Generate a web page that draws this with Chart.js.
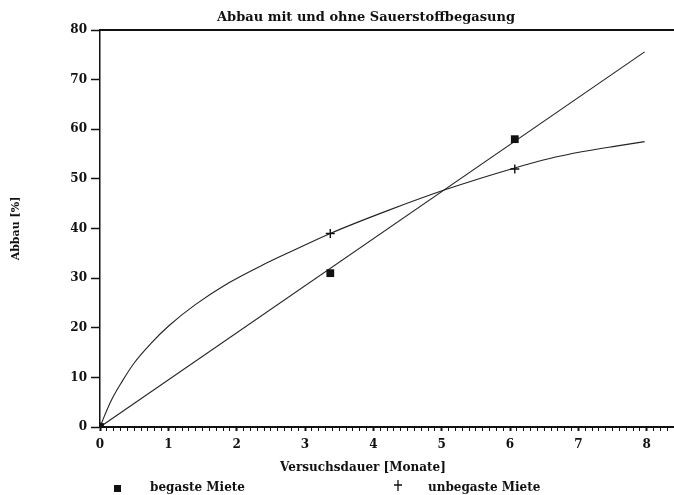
<!DOCTYPE html>
<html>
<head>
<meta charset="utf-8">
<script src="https://cdn.jsdelivr.net/npm/chart.js@4"></script>
<style>
  html, body { margin: 0; padding: 0; background: #fff; }
  #wrap { position: relative; width: 674px; height: 495px; }
</style>
</head>
<body>
<div id="wrap"><canvas id="abbauChart"></canvas></div>
<script>
// measured values (months, % degradation)
const begastX = [0, 3.37, 6.07];
const begastY = [0, 31, 58];
const unbegastX = [0, 3.37, 6.07];
const unbegastY = [0, 39, 52];

// fitted line for begaste Miete
const begastFitX = [0, 7.97];
const begastFitY = [0, 75.6];

// fitted curve for unbegaste Miete
const unbegastFitX = [0, 0.07, 0.17, 0.32, 0.5, 0.75, 1.0, 1.39, 1.88, 2.36, 2.85, 3.37, 4.19, 5.07, 6.07, 6.58, 7.07, 7.55, 7.97];
const unbegastFitY = [0, 2.4, 5.5, 9.1, 12.9, 16.9, 20.3, 24.6, 29.0, 32.5, 35.7, 39.0, 43.5, 47.9, 52.2, 54.1, 55.5, 56.6, 57.5];

const yTicks = [0, 10, 20, 30, 40, 50, 60, 70, 80];
const xLabels = [0, 1, 2, 3, 4, 5, 6, 7, 8];

const FONT = "'DejaVu Serif', serif";
const INK = "#111";

const toPoints = (xs, ys) => xs.map((x, i) => ({ x: x, y: ys[i] }));

const isMajor = (v) => Math.abs(v - Math.round(v)) < 1e-6 && xLabels.includes(Math.round(v));

/**
 * Title, x axis caption, legend and top frame line
 */
const annotations = {
    id: "annotations",
    afterDraw(chart) {
        const ctx = chart.ctx;
        const area = chart.chartArea;
        ctx.save();
        ctx.fillStyle = INK;
        ctx.strokeStyle = INK;

        // top frame
        ctx.lineWidth = 2;
        ctx.beginPath();
        ctx.moveTo(area.left, area.top);
        ctx.lineTo(area.right, area.top);
        ctx.stroke();

        ctx.textBaseline = "middle";
        ctx.textAlign = "center";
        ctx.font = "bold 13px " + FONT;
        ctx.fillText("Abbau mit und ohne Sauerstoffbegasung", 366, 18);

        ctx.font = "bold 12px " + FONT;
        ctx.fillText("Versuchsdauer [Monate]", 363, 468);

        // legend
        ctx.textAlign = "left";
        ctx.fillRect(114, 485, 7, 7);
        ctx.fillText("begaste Miete", 150, 488);
        ctx.lineWidth = 1.3;
        ctx.beginPath();
        ctx.moveTo(394, 485);
        ctx.lineTo(402, 485);
        ctx.moveTo(398, 480);
        ctx.lineTo(398, 491);
        ctx.stroke();
        ctx.fillText("unbegaste Miete", 428, 488);
        ctx.restore();
    },
};

new Chart(document.getElementById("abbauChart").getContext("2d"), {
    type: "scatter",
    data: {
        datasets: [
            {
                label: "begaste Miete",
                data: toPoints(begastX, begastY),
                pointStyle: "rect",
                pointRadius: 5.5,
                backgroundColor: INK,
                borderColor: INK,
                borderWidth: 0,
                showLine: false,
            },
            {
                label: "unbegaste Miete",
                data: toPoints(unbegastX, unbegastY),
                pointStyle: "cross",
                pointRadius: 4.5,
                borderColor: INK,
                borderWidth: 1.4,
                showLine: false,
            },
            {
                label: "Ausgleich begast",
                data: toPoints(begastFitX, begastFitY),
                showLine: true,
                pointRadius: 0,
                borderColor: "#222",
                borderWidth: 1.1,
            },
            {
                label: "Ausgleich unbegast",
                data: toPoints(unbegastFitX, unbegastFitY),
                showLine: true,
                pointRadius: 0,
                borderColor: "#222",
                borderWidth: 1.1,
                cubicInterpolationMode: "monotone",
            },
        ],
    },
    options: {
        responsive: true,
        maintainAspectRatio: false,
        animation: false,
        layout: {
            autoPadding: false,
            padding: { top: 30, right: 0, left: 0, bottom: 0 },
        },
        plugins: {
            legend: { display: false },
            title: { display: false },
            tooltip: { enabled: false },
        },
        scales: {
            x: {
                type: "linear",
                min: 0,
                max: 8.4,
                afterFit(scale) {
                    scale.height = 68;
                    scale.paddingLeft = 0;
                    scale.paddingRight = 0;
                },
                border: { color: INK, width: 2 },
                grid: {
                    drawOnChartArea: false,
                    drawTicks: true,
                    tickLength: 4,
                    tickColor: INK,
                    tickWidth: (c) => (c.tick && isMajor(c.tick.value) ? 2 : 1),
                },
                ticks: {
                    stepSize: 0.1,
                    autoSkip: false,
                    maxTicksLimit: 200,
                    maxRotation: 0,
                    padding: 7,
                    color: INK,
                    font: { family: FONT, size: 12, weight: "bold" },
                    callback: (v) => (isMajor(v) ? String(Math.round(v)) : ""),
                },
            },
            y: {
                min: 0,
                max: 80,
                afterFit(scale) {
                    scale.width = 100;
                },
                afterBuildTicks(scale) {
                    scale.ticks = yTicks.map((v) => ({ value: v }));
                },
                border: { color: INK, width: 1.5 },
                grid: {
                    drawOnChartArea: false,
                    drawTicks: true,
                    tickLength: 9,
                    tickColor: INK,
                    tickWidth: 1.5,
                },
                ticks: {
                    padding: 4,
                    color: INK,
                    font: { family: FONT, size: 12, weight: "bold" },
                },
                title: {
                    display: true,
                    text: "Abbau [%]",
                    color: INK,
                    font: { family: FONT, size: 11, weight: "bold" },
                    padding: { top: 10, bottom: 0 },
                },
            },
        },
    },
    plugins: [annotations],
});
</script>
</body>
</html>
